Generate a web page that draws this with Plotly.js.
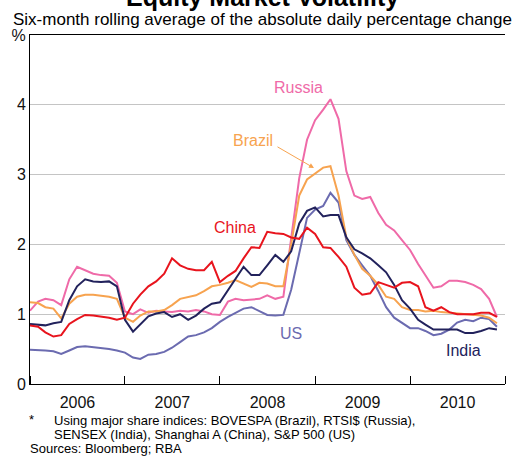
<!DOCTYPE html>
<html><head><meta charset="utf-8">
<script src="https://cdn.plot.ly/plotly-3.0.1.min.js"></script>
<style>html,body{margin:0;padding:0;background:#fff}#chart{width:525px;height:458px}</style>
</head><body><div id="chart"></div>
<script>
// Monthly observation dates (Jan 2006 - Dec 2010)
const months = [];
for (let y = 2006; y <= 2010; y++) for (let m = 1; m <= 12; m++) months.push(y + '-' + String(m).padStart(2, '0') + '-01');

const seriesNames = ['US', 'Russia', 'Brazil', 'India', 'China'];

const us = [0.49,0.49,0.48,0.47,0.43,0.48,0.53,0.54,0.53,0.52,0.50,0.48,
  0.45,0.38,0.36,0.42,0.43,0.46,0.52,0.60,0.68,0.70,0.74,0.80,
  0.89,0.96,1.02,1.08,1.10,1.04,0.99,0.98,0.99,1.35,1.85,2.38,
  2.50,2.55,2.74,2.60,2.06,1.85,1.70,1.55,1.33,1.10,0.95,0.87,
  0.80,0.80,0.76,0.70,0.72,0.78,0.88,0.92,0.90,0.95,0.93,0.82];

const russia = [1.05,1.18,1.22,1.20,1.13,1.50,1.68,1.63,1.58,1.56,1.55,1.45,
  1.04,1.00,1.07,1.02,1.05,1.04,1.03,1.05,1.04,1.06,1.04,1.00,
  0.99,1.18,1.22,1.20,1.21,1.22,1.27,1.22,1.25,2.10,2.95,3.50,
  3.78,3.93,4.08,3.80,3.05,2.70,2.65,2.68,2.45,2.28,2.20,2.06,
  1.92,1.72,1.55,1.38,1.40,1.48,1.48,1.46,1.42,1.36,1.22,0.96];

const brazil = [1.17,1.16,1.10,1.08,0.94,1.15,1.25,1.28,1.28,1.27,1.25,1.22,
  0.95,0.89,0.98,1.04,1.04,1.06,1.13,1.22,1.25,1.27,1.33,1.40,
  1.42,1.45,1.49,1.44,1.39,1.45,1.44,1.40,1.40,2.00,2.70,2.93,
  3.02,3.10,3.12,2.70,2.10,1.85,1.65,1.55,1.42,1.25,1.22,1.10,
  1.06,1.06,1.04,1.05,1.03,1.02,1.02,1.00,0.99,0.98,0.95,0.87];

const india = [0.86,0.85,0.84,0.87,0.89,1.20,1.40,1.50,1.47,1.46,1.47,1.40,
  0.92,0.75,0.85,0.97,1.01,1.03,0.96,1.00,0.92,0.98,1.08,1.15,
  1.17,1.35,1.50,1.68,1.56,1.56,1.70,1.85,1.75,1.90,2.30,2.48,
  2.53,2.40,2.42,2.42,2.10,1.93,1.87,1.80,1.70,1.60,1.42,1.20,
  1.08,0.92,0.85,0.78,0.78,0.78,0.78,0.73,0.73,0.76,0.80,0.78];

const china = [0.84,0.82,0.74,0.68,0.70,0.86,0.93,0.99,0.98,0.97,0.95,0.92,
  0.95,1.15,1.28,1.40,1.47,1.58,1.80,1.70,1.65,1.63,1.63,1.75,
  1.46,1.55,1.62,1.80,1.96,1.95,2.18,2.16,2.15,2.10,2.08,2.24,
  2.15,1.96,1.95,1.82,1.68,1.38,1.28,1.30,1.46,1.42,1.38,1.45,
  1.46,1.40,1.10,1.05,1.10,1.03,1.00,1.00,1.00,1.02,1.02,0.96];

const yTickVals = [0, 1, 2, 3, 4, 5];
const yTickText = ['0', '1', '2', '3', '4', '%'];

const colors = {US: '#6b6bb0', Russia: '#ef6aa8', Brazil: '#f7a34f', India: '#22225c', China: '#e8141d'};
const values = {US: us, Russia: russia, Brazil: brazil, India: india, China: china};

const FONT = 'Arial, "Liberation Sans", sans-serif';

const traces = seriesNames.map(n => ({
  x: months, y: values[n], type: 'scatter', mode: 'lines', name: n,
  line: {color: colors[n], width: 2}, hoverinfo: 'skip'
}));

// plot area in pixels: left 30, right 505, top 35, bottom 384
const L = 30, R = 505, T = 35, B = 384;
const px = x => (x - L) / (R - L);
const py = y => (B - y) / (B - T);

const ann = (text, cx, cy, color, size, extra) => Object.assign({
  text, x: px(cx), y: py(cy), xref: 'paper', yref: 'paper', showarrow: false,
  xanchor: 'center', yanchor: 'middle', borderpad: 0, font: {family: FONT, size, color}
}, extra || {});

const annotations = [
  ann('<b>Equity Market Volatility</b>', 262, -3, '#000', 25),
  ann('Six-month rolling average of the absolute daily percentage change', 262, 19, '#000', 17),
  ann('Russia', 298, 87, colors.Russia, 16),
  ann('Brazil', 253, 140, colors.Brazil, 16),
  ann('China', 235, 227, colors.China, 16),
  ann('US', 291, 333, colors.US, 16),
  ann('India', 463, 350, colors.India, 16),
  {x: px(314), y: py(168), xref: 'paper', yref: 'paper', text: '', showarrow: true,
   ax: -38, ay: -22, arrowcolor: colors.Brazil, arrowwidth: 1, arrowhead: 2, arrowsize: 1},
  ann('*', 31, 419, '#000', 13),
  ann('Using major share indices: BOVESPA (Brazil), RTSI$ (Russia),', 53, 420, '#000', 13, {xanchor: 'left', align: 'left'}),
  ann('SENSEX (India), Shanghai A (China), S&P 500 (US)', 53, 434, '#000', 13, {xanchor: 'left', align: 'left'}),
  ann('Sources: Bloomberg; RBA', 29, 448, '#000', 13, {xanchor: 'left', align: 'left'})
];

const yBase = {
  range: [0, 5], tickvals: yTickVals, ticktext: yTickText, ticks: '',
  showline: true, linecolor: '#000', linewidth: 1, zeroline: false,
  tickfont: {family: FONT, size: 16, color: '#111'}, fixedrange: true
};

const layout = {
  width: 525, height: 458,
  margin: {l: L, r: 525 - R, t: T, b: 458 - B},
  paper_bgcolor: '#fff', plot_bgcolor: '#fff',
  showlegend: false,
  xaxis: {
    type: 'date', range: ['2006-01-01', '2011-01-01'], dtick: 'M12', tick0: '2006-01-01',
    tickformat: '%Y', ticklabelmode: 'period', ticks: 'inside', ticklen: 8, tickcolor: '#000',
    showgrid: false, showline: true, mirror: true, linecolor: '#000', linewidth: 1,
    tickfont: {family: FONT, size: 16, color: '#111'}, ticklabelstandoff: 4, fixedrange: true
  },
  yaxis: Object.assign({}, yBase, {side: 'left', showgrid: true, gridcolor: '#c4c4c4', gridwidth: 1}),
  yaxis2: Object.assign({}, yBase, {side: 'right', overlaying: 'y', showgrid: false, anchor: 'x'}),
  annotations
};

Plotly.newPlot('chart', traces, layout, {staticPlot: true, displayModeBar: false});
</script></body></html>
